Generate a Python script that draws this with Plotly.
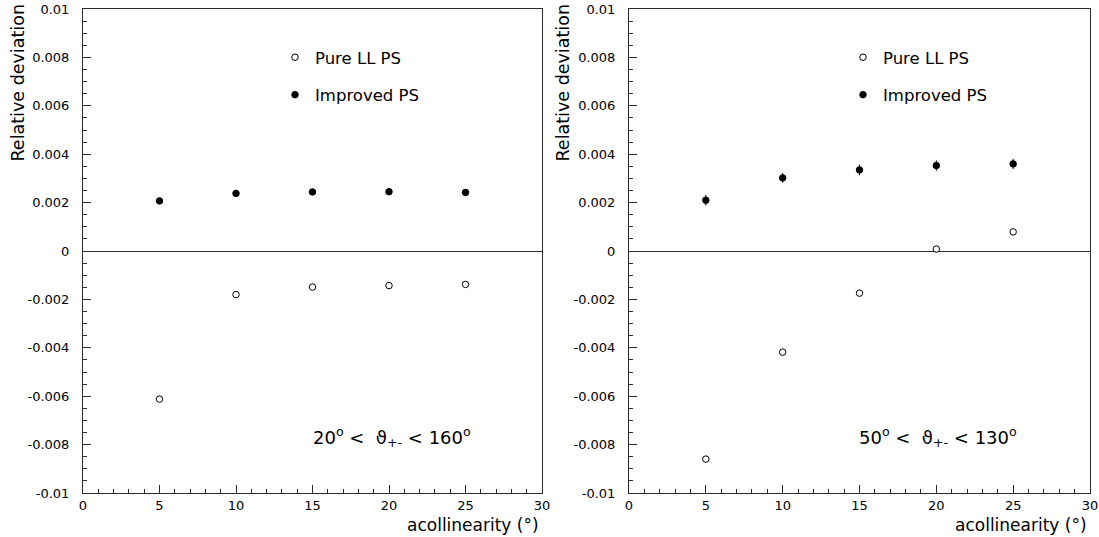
import plotly.graph_objects as go

acol = [5, 10, 15, 20, 25]

# left panel: 20 deg < theta < 160 deg
left_pure = [-0.00612, -0.00180, -0.00149, -0.00143, -0.00138]
left_pure_err = [0.00005, 0.00005, 0.00005, 0.00005, 0.00005]
left_impr = [0.00207, 0.00238, 0.00244, 0.00245, 0.00242]
left_impr_err = [0.00008, 0.00008, 0.00008, 0.00008, 0.00008]

# right panel: 50 deg < theta < 130 deg
right_pure = [-0.00860, -0.00418, -0.00174, 0.00008, 0.00079]
right_pure_err = [0.00014, 0.00014, 0.00014, 0.00014, 0.00014]
right_impr = [0.00210, 0.00302, 0.00335, 0.00353, 0.00360]
right_impr_err = [0.00022, 0.00020, 0.00022, 0.00021, 0.00021]

ytick_vals = [0.01, 0.008, 0.006, 0.004, 0.002, 0, -0.002, -0.004, -0.006, -0.008, -0.01]
ytick_text = ["0.01", "0.008", "0.006", "0.004", "0.002", "0", "-0.002", "-0.004", "-0.006", "-0.008", "-0.01"]
xtick_vals = [0, 5, 10, 15, 20, 25, 30]
xtick_text = ["0", "5", "10", "15", "20", "25", "30"]

FONT = "DejaVu Sans"
AX = "#2a2a2a"

fig = go.Figure()

def add(xa, ya, y, err, name, filled, legend, group):
    fig.add_trace(go.Scatter(
        x=acol, y=y, mode="markers", name=name, xaxis=xa, yaxis=ya,
        legend=legend, legendgroup=group,
        marker=dict(symbol="circle", size=6.5,
                    color="black" if filled else "white", line=dict(color="black", width=1)),
        error_y=dict(type="data", array=err, color="black", thickness=1, width=0),
    ))

add("x", "y", left_pure, left_pure_err, "Pure LL PS", False, "legend", "a")
add("x", "y", left_impr, left_impr_err, "Improved PS", True, "legend", "b")
add("x2", "y2", right_pure, right_pure_err, "Pure LL PS", False, "legend2", "c")
add("x2", "y2", right_impr, right_impr_err, "Improved PS", True, "legend2", "d")

W, H = 1099, 537
def px(x): return x / W
def py(y): return 1 - y / H

xcommon = dict(range=[0, 30], tickvals=xtick_vals, ticktext=xtick_text, ticks="inside",
               ticklen=8, tickcolor=AX, showline=True, linecolor=AX, linewidth=1, mirror=True,
               showgrid=False, zeroline=False, automargin=False, ticklabelstandoff=0,
               tickfont=dict(family=FONT, size=13, color="black"),
               minor=dict(tickmode="linear", tick0=0, dtick=1, ticks="inside", ticklen=4, tickcolor=AX))
ycommon = dict(range=[-0.01, 0.01], tickvals=ytick_vals, ticktext=ytick_text, ticks="inside",
               ticklen=8, tickcolor=AX, showline=True, linecolor=AX, linewidth=1, mirror=True,
               showgrid=False, zeroline=True, zerolinecolor=AX, zerolinewidth=1,
               automargin=False, ticklabelstandoff=10,
               tickfont=dict(family=FONT, size=13, color="black"),
               minor=dict(tickmode="linear", tick0=0, dtick=0.0005, ticks="inside", ticklen=4, tickcolor=AX))

LEGFONT = dict(family=FONT, size=16.5, color="black")
fig.update_layout(
    width=W, height=H, margin=dict(l=0, r=0, t=0, b=0),
    paper_bgcolor="white", plot_bgcolor="white",
    font=dict(family=FONT, color="black"),
    xaxis=dict(xcommon, domain=[px(83), px(542)], anchor="y"),
    yaxis=dict(ycommon, domain=[py(493), py(9)], anchor="x"),
    xaxis2=dict(xcommon, domain=[px(629), px(1090)], anchor="y2"),
    yaxis2=dict(ycommon, domain=[py(493), py(9)], anchor="x2"),
    legend=dict(x=px(275), y=py(40), xanchor="left", yanchor="top", bgcolor="rgba(0,0,0,0)",
                font=LEGFONT, traceorder="grouped", tracegroupgap=13, itemwidth=30),
    legend2=dict(x=px(843), y=py(40), xanchor="left", yanchor="top", bgcolor="rgba(0,0,0,0)",
                 font=LEGFONT, traceorder="grouped", tracegroupgap=13, itemwidth=30),
    showlegend=True,
)

ann = []
for xl, xr in [(17, 541), (562, 1089)]:
    ann.append(dict(text="Relative deviation", x=px(xl), y=py(3), xref="paper", yref="paper",
                    textangle=-90, xanchor="center", yanchor="top", showarrow=False,
                    font=dict(family=FONT, size=17.5)))
    ann.append(dict(text="acollinearity (°)", x=px(xr), y=py(525), xref="paper", yref="paper",
                    xanchor="right", yanchor="middle", showarrow=False,
                    font=dict(family=FONT, size=17)))
ann.append(dict(text="20<sup>o</sup> <  ϑ<sub>+-</sub> < 160<sup>o</sup>", x=px(311), y=py(437),
                xref="paper", yref="paper", xanchor="left", yanchor="middle", showarrow=False,
                font=dict(family=FONT, size=18)))
ann.append(dict(text="50<sup>o</sup> <  ϑ<sub>+-</sub> < 130<sup>o</sup>", x=px(857), y=py(437),
                xref="paper", yref="paper", xanchor="left", yanchor="middle", showarrow=False,
                font=dict(family=FONT, size=18)))
fig.update_layout(annotations=ann)

fig.write_html("out.html", config={"displayModeBar": False},
               post_script="document.body.style.margin='0';document.body.style.padding='0';")
